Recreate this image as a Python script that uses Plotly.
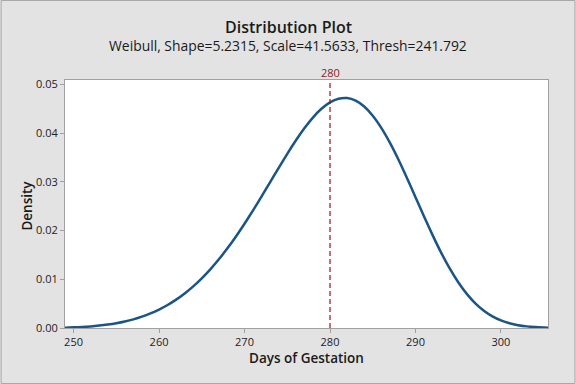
import plotly.graph_objects as go

# Data
days = [249.0, 250, 251, 252, 253, 254, 255, 256, 257, 258, 259, 260,
        261, 262, 263, 264, 265, 266, 267, 268, 269, 270,
        271, 272, 273, 274, 275, 276, 277, 278, 279, 280,
        281, 282, 283, 284, 285, 286, 287, 288, 289, 290,
        291, 292, 293, 294, 295, 296, 297, 298, 299, 300,
        301, 302, 303, 304, 305, 305.5]
density = [0.000076, 0.000131, 0.000214, 0.000331, 0.000491, 0.000704,
           0.000982, 0.001336, 0.001778, 0.002324, 0.002986, 0.003779,
           0.004718, 0.005817, 0.007089, 0.008546, 0.010196, 0.012047,
           0.014101, 0.016351, 0.018791, 0.021401,
           0.024157, 0.027020, 0.029946, 0.032877, 0.035747, 0.038480,
           0.040990, 0.043189, 0.044990, 0.046305,
           0.047059, 0.047190, 0.046657, 0.045446, 0.043570, 0.041074,
           0.038040, 0.034570, 0.030791, 0.026853,
           0.022893, 0.019061, 0.015470, 0.012227, 0.009392, 0.007002,
           0.005057, 0.003532, 0.002382, 0.001547,
           0.000966, 0.000579, 0.000332, 0.000182, 0.000095, 0.000068]
ref_day = 280
ref_label = "280"
x_ticks = [250, 260, 270, 280, 290, 300]
y_ticks = [0.00, 0.01, 0.02, 0.03, 0.04, 0.05]
y_tick_text = ["0.00", "0.01", "0.02", "0.03", "0.04", "0.05"]

title_text = "Distribution Plot"
subtitle_text = "Weibull, Shape=5.2315, Scale=41.5633, Thresh=241.792"
x_title = "Days of Gestation"
y_title = "Density"

FONT = "Open Sans"
BG = "#e3e3e3"
CURVE = "#1a5586"
REF = "#8c1c1c"
AXIS = "#a0a0a0"

W, H = 576, 384
ML, MR, MT, MB = 64.5, 27.5, 80, 56
PW, PH = W - ML - MR, H - MT - MB


def py(pix):
    return (H - MB - pix) / PH


def px(pix):
    return (pix - ML) / PW


fig = go.Figure()
fig.add_trace(go.Scatter(
    x=days, y=density, mode="lines",
    line=dict(color=CURVE, width=2.5, shape="spline", smoothing=0.6),
    hoverinfo="skip", showlegend=False,
))

fig.add_shape(type="line", xref="x", yref="paper", x0=ref_day, x1=ref_day,
              y0=0, y1=1, line=dict(color=REF, width=1.2, dash="5px,3px"),
              layer="above")

fig.add_annotation(x=ref_day, xref="x", y=py(72), yref="paper",
                   text=ref_label, showarrow=False,
                   font=dict(family=FONT, size=11, color=REF),
                   xanchor="center", yanchor="middle")

fig.add_annotation(x=px(W / 2), xref="paper", y=py(27), yref="paper",
                   text=title_text, showarrow=False,
                   font=dict(family=FONT, size=16, color="#1a1a1a", weight=600),
                   xanchor="center", yanchor="middle")
fig.add_annotation(x=px(W / 2), xref="paper", y=py(46), yref="paper",
                   text=subtitle_text, showarrow=False,
                   font=dict(family=FONT, size=13.9, color="#1a1a1a"),
                   xanchor="center", yanchor="middle")
fig.add_annotation(x=0.5, xref="paper", y=py(358), yref="paper",
                   text=x_title, showarrow=False,
                   font=dict(family=FONT, size=13.5, color="#1a1a1a", weight=600),
                   xanchor="center", yanchor="middle")
fig.add_annotation(x=px(26), xref="paper", y=py(206), yref="paper",
                   text=y_title, showarrow=False, textangle=-90,
                   font=dict(family=FONT, size=13.5, color="#1a1a1a", weight=600),
                   xanchor="center", yanchor="middle")

# outer border of the picture
fig.add_shape(type="rect", xref="paper", yref="paper",
              x0=px(0.5), x1=px(W - 0.5), y0=py(H - 0.5), y1=py(0.5),
              line=dict(color="#a8a8a8", width=1), layer="below")

fig.update_layout(
    width=W, height=H,
    margin=dict(l=ML, r=MR, t=MT, b=MB, pad=0),
    paper_bgcolor=BG, plot_bgcolor="white",
    font=dict(family=FONT, size=11, color="#222222"),
    showlegend=False,
)
fig.update_xaxes(
    range=[249.0, 305.5], tickvals=x_ticks, ticktext=[str(v) for v in x_ticks],
    showgrid=False, zeroline=False, showline=True, linecolor=AXIS, linewidth=1,
    mirror=True, ticks="outside", ticklen=4, tickcolor=AXIS,
    tickfont=dict(family=FONT, size=11, color="#222222"),
)
fig.update_yaxes(
    range=[0, 0.0509], tickvals=y_ticks, ticktext=y_tick_text,
    showgrid=False, zeroline=False, showline=True, linecolor=AXIS, linewidth=1,
    mirror=True, ticks="outside", ticklen=4, tickcolor=AXIS,
    tickfont=dict(family=FONT, size=11, color="#222222"),
)

fig.write_html(
    "out.html",
    config={"displayModeBar": False, "staticPlot": True},
    post_script="document.body.style.margin='0';document.body.style.padding='0';"
                "document.documentElement.style.overflow='hidden';",
)
